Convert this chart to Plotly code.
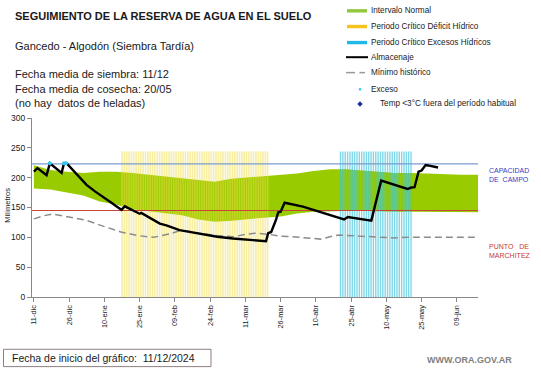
import plotly.graph_objects as go

# ---------------- data ----------------
TICK_DAYS = [0, 15, 30, 45, 60, 75, 90, 105, 120, 135, 150, 165, 180]
TICK_LABELS = ["11-dic", "26-dic", "10-ene", "25-ene", "09-feb", "24-feb", "11-mar",
               "26-mar", "10-abr", "25-abr", "10-may", "25-may", "09-jun"]
X_RANGE = [-0.8, 189]

BAND_DAYS = [0, 7, 14, 21, 28, 35, 42, 49, 56, 63, 70, 77, 84, 91, 98, 105, 112, 119,
             126, 133, 140, 147, 154, 161, 168, 175, 182, 189]
BAND_UPPER = [221, 213, 210, 208, 210, 210, 208, 205, 203, 200, 196, 193, 198, 200, 202,
              204, 207, 211, 214, 214, 212, 209, 208, 208, 207, 205, 205, 205]
BAND_LOWER = [182, 180, 175, 170, 160, 155, 147, 144, 140, 137, 130, 126, 128, 131, 133,
              135, 140, 143, 144, 144, 144, 143, 143, 143, 143, 143, 142, 142]

MIN_DAYS = [0, 4, 8, 14, 22, 30, 37, 44, 51, 58, 62, 66, 70, 78, 85, 90, 94, 100, 105,
            110, 116, 122, 126, 130, 139, 146, 153, 160, 170, 189]
MIN_VALS = [131, 136, 139, 135, 129, 118, 109, 103, 100, 106, 111, 110, 107, 103, 101,
            105, 107, 105, 102, 101, 99, 97, 101, 104, 102, 101, 99, 100, 100, 100]

ALM_DAYS = [0, 1.5, 5.4, 6.8, 11.8, 12.8, 14, 18, 22.4, 26, 29.5, 33, 36.6, 37.3, 38.7,
            45, 45.7, 50, 53.6, 56.4, 62, 65, 70.6, 78, 84.7, 90, 96, 98.8, 99.7, 101,
            103, 104, 105, 106.7, 114.5, 120, 126, 132, 133.6, 143.6, 147.8, 159, 160.6,
            162, 163.7, 165, 166.7, 167.7, 172]
ALM_VALS = [210, 216, 204, 224, 208, 224, 224, 206, 188, 177, 168, 158, 148, 146, 152,
            139.5, 141, 131, 123, 120, 112, 110, 106, 101, 98, 96, 94, 93.5, 107, 109,
            129, 142, 143, 158, 151.5, 145, 137.5, 130, 134, 128, 195, 181, 183.5,
            184, 210, 212, 221, 220.5, 217]

EXCESO_DAYS = [6.8, 12.8, 13.7]
EXCESO_VALS = [224, 224, 224]

CAPACIDAD = 223
MARCHITEZ = 145
DEFICIT_START, DEFICIT_END = 37, 99
EXCESOS_START, EXCESOS_END = 130, 160
STRIPE_TOP = 244

# ---------------- layout geometry ----------------
FIG_W, FIG_H = 541, 368
ML, MR, MT, MB = 32, 63, 118, 71.3
PW = FIG_W - ML - MR
PH = FIG_H - MT - MB


def px(x):
    return (x - ML) / PW


def py(y):
    return (FIG_H - MB - y) / PH


def stripes(start, end, top):
    xs, ys = [], []
    for d in range(start, end + 1):
        xs += [d + 0.5, d + 0.5, None]
        ys += [0, top, None]
    return xs, ys


FONT = "Liberation Sans, Arial, sans-serif"

fig = go.Figure()

# normal interval band
fig.add_trace(go.Scatter(x=BAND_DAYS, y=BAND_LOWER, mode="lines",
                         line=dict(width=0, color="#99cc00"), hoverinfo="skip",
                         showlegend=False))
fig.add_trace(go.Scatter(x=BAND_DAYS, y=BAND_UPPER, mode="lines", fill="tonexty",
                         fillcolor="#99cc00", line=dict(width=0, color="#99cc00"),
                         showlegend=False))

# critical periods (stripes)
sx, sy = stripes(DEFICIT_START, DEFICIT_END, STRIPE_TOP)
fig.add_trace(go.Scatter(x=sx, y=sy, mode="lines",
                         line=dict(width=1.6, color="rgba(240,222,70,0.5)"),
                         showlegend=False, hoverinfo="skip"))
cx, cy = stripes(EXCESOS_START, EXCESOS_END, STRIPE_TOP)
fig.add_trace(go.Scatter(x=cx, y=cy, mode="lines",
                         line=dict(width=1.4, color="rgba(60,195,220,0.65)"),
                         showlegend=False, hoverinfo="skip"))

# capacity / wilting point lines
fig.add_trace(go.Scatter(x=X_RANGE, y=[CAPACIDAD, CAPACIDAD], mode="lines",
                         line=dict(width=1.2, color="#7b9bcf"), showlegend=False))
fig.add_trace(go.Scatter(x=X_RANGE, y=[MARCHITEZ, MARCHITEZ], mode="lines",
                         line=dict(width=1.2, color="#c8453a"), showlegend=False))

# historical minimum
fig.add_trace(go.Scatter(x=MIN_DAYS, y=MIN_VALS, mode="lines",
                         line=dict(width=1.5, color="#8c8c8c", dash="7px,4px"),
                         showlegend=False))

# storage
fig.add_trace(go.Scatter(x=ALM_DAYS, y=ALM_VALS, mode="lines",
                         line=dict(width=2.4, color="black"), showlegend=False))

# excess markers
fig.add_trace(go.Scatter(x=EXCESO_DAYS, y=EXCESO_VALS, mode="markers",
                         marker=dict(size=4, color="#33c8ee"), showlegend=False))

annotations = []
shapes = []


def text(x, y, t, size, color="#1a1a1a", bold=False, anchor="left"):
    annotations.append(dict(
        x=px(x), y=py(y), xref="paper", yref="paper", text=f"<b>{t}</b>" if bold else t,
        showarrow=False, xanchor=anchor, yanchor="middle",
        font=dict(family=FONT, size=size, color=color)))


# header texts
text(12.5, 16.3, "SEGUIMIENTO DE LA RESERVA DE AGUA EN EL SUELO", 11, bold=True)
text(12.5, 45.7, "Gancedo - Algodón (Siembra Tardía)", 11)
text(12.5, 73.8, "Fecha media de siembra: 11/12", 11)
text(12.5, 88.7, "Fecha media de cosecha: 20/05", 11)
text(12.5, 102.9, "(no hay  datos de heladas)", 11)

# custom legend
LEG_TXT_X = 369
leg_items = [
    (11.0, "Intervalo Normal"),
    (26.7, "Periodo Crítico Déficit Hídrico"),
    (42.7, "Periodo Crítico Excesos Hídricos"),
    (57.3, "Almacenaje"),
    (72.7, "Mínimo histórico"),
    (89.3, "Exceso"),
]
for yy, t in leg_items:
    text(LEG_TXT_X, yy, t, 8.2)
text(377.5, 104, "Temp <3°C fuera del período habitual", 8.2)

for yy, col in [(11.0, "#92c83e"), (26.7, "#f7c31c"), (42.7, "#1fb8e8")]:
    shapes.append(dict(type="rect", xref="paper", yref="paper",
                       x0=px(347), x1=px(367), y0=py(yy + 1.7), y1=py(yy - 1.7),
                       fillcolor=col, line=dict(width=0)))
shapes.append(dict(type="line", xref="paper", yref="paper", x0=px(346), x1=px(368),
                   y0=py(57.3), y1=py(57.3), line=dict(color="black", width=2)))
shapes.append(dict(type="line", xref="paper", yref="paper", x0=px(346), x1=px(355),
                   y0=py(72.7), y1=py(72.7), line=dict(color="#999999", width=1.5)))
shapes.append(dict(type="line", xref="paper", yref="paper", x0=px(359.5), x1=px(365),
                   y0=py(72.7), y1=py(72.7), line=dict(color="#999999", width=1.5)))
shapes.append(dict(type="circle", xref="paper", yref="paper", x0=px(358.8), x1=px(361.2),
                   y0=py(90.5), y1=py(88.1), fillcolor="#33c8ee", line=dict(width=0)))
shapes.append(dict(type="path", xref="paper", yref="paper",
                   path=f"M {px(360)} {py(101.3)} L {px(362.7)} {py(104)} L {px(360)} {py(106.7)} L {px(357.3)} {py(104)} Z",
                   fillcolor="#1f2f9a", line=dict(width=0)))

# right-side labels
text(486.5, 170, "CAPACIDAD", 7, color="#3b3bc0")
text(486.5, 179, "DE  CAMPO", 7, color="#3b3bc0")
text(486.5, 246.7, "PUNTO   DE", 7, color="#c83a30")
text(486.5, 255.2, "MARCHITEZ", 7, color="#c83a30")

# y-axis title
annotations.append(dict(x=px(7.5), y=py(205), xref="paper", yref="paper", text="Milímetros",
                        showarrow=False, textangle=-90, xanchor="center", yanchor="middle",
                        font=dict(family=FONT, size=7.5, color="#1a1a1a")))

# bottom texts
shapes.append(dict(type="rect", xref="paper", yref="paper", x0=px(3.5), x1=px(211),
                   y0=py(366.2), y1=py(348.9), line=dict(color="#8e7f7f", width=1),
                   fillcolor="rgba(0,0,0,0)"))
text(9.5, 357.6, "Fecha de inicio del gráfico:  11/12/2024", 10.5, color="#1a1a1a")
text(425, 360, "<b>WWW.ORA.GOV.AR</b>", 9, color="#808080")

fig.update_layout(
    width=FIG_W, height=FIG_H,
    margin=dict(l=ML, r=MR, t=MT, b=MB, pad=0),
    paper_bgcolor="white", plot_bgcolor="white",
    showlegend=False,
    annotations=annotations, shapes=shapes,
    font=dict(family=FONT, color="#1a1a1a"),
)
fig.update_xaxes(range=X_RANGE, tickmode="array", tickvals=TICK_DAYS, ticktext=TICK_LABELS,
                 tickangle=-90, ticks="outside", ticklen=4, tickcolor="#888888",
                 showline=True, linecolor="#888888", linewidth=1.3, showgrid=False,
                 zeroline=False, tickfont=dict(family=FONT, size=7.4, color="#1a1a1a"))
fig.update_yaxes(range=[0, 300], tickvals=[0, 50, 100, 150, 200, 250, 300], ticks="outside",
                 ticklen=4, tickcolor="#888888", showline=True, linecolor="#888888",
                 linewidth=1.3, showgrid=False, zeroline=False,
                 tickfont=dict(family=FONT, size=8.5, color="#1a1a1a"))

fig.write_html("out.html", config={"displayModeBar": False},
               post_script="document.body.style.margin='0';document.body.style.padding='0';")
